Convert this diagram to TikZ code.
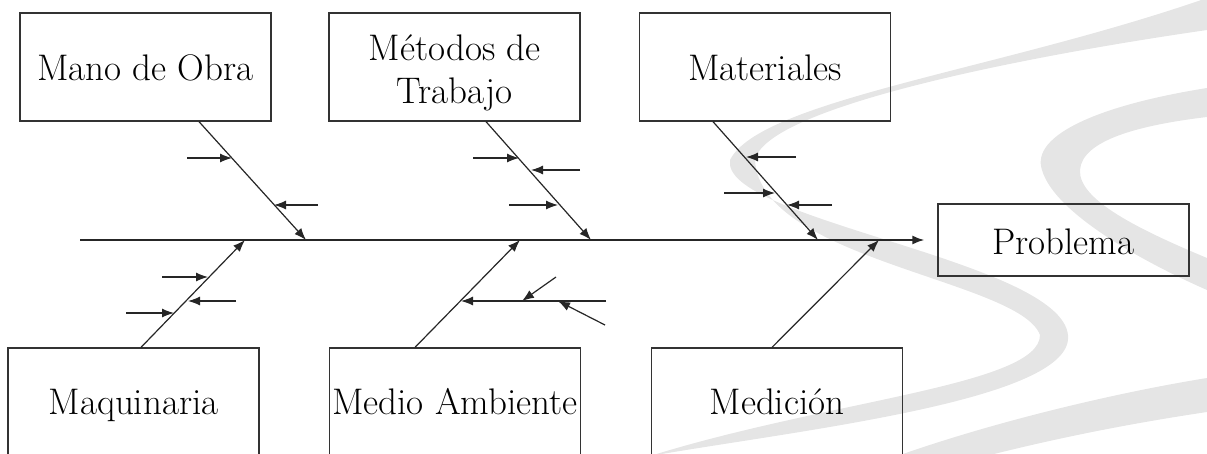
\documentclass[tikz,border=0pt]{standalone}
\usepackage{fontspec}
\usetikzlibrary{arrows.meta}
\begin{document}
\begin{tikzpicture}[x=1pt,y=-1pt,
  boxfont/.style={font=\fontsize{37}{43}\selectfont},
  box/.style={draw=black!80,line width=1.3pt,minimum width=251pt,inner sep=0pt,
    align=center,boxfont},
  upbox/.style={box,minimum height=108pt,text height=26pt,text depth=0pt},
  lowbox/.style={box,minimum height=114pt,text height=26pt,text depth=6.5pt},
  probbox/.style={box,minimum height=72pt,text height=28pt,text depth=0pt},
  boxtext/.style={boxfont,align=center,inner sep=0pt},
  branch/.style={draw=black!85,line width=1.2pt,-{Latex[length=12pt,width=9pt]}},
  spine/.style={draw=black!85,line width=1.8pt,-{Latex[length=12pt,width=9pt]}},
  swoosh/.style={fill=black!10,draw=none}]
\useasboundingbox (0,0) rectangle (1207,453);
\clip (0,0) rectangle (1207,453);
% background swooshes
\path[swoosh] (1207,-2) .. controls (1000,70) and (760,100) .. (730,160)
  .. controls (720,220) and (1060,260) .. (1068,335)
  .. controls (1075,400) and (800,430) .. (650,456)
  .. controls (830,400) and (1040,385) .. (1040,335)
  .. controls (1020,280) and (760,260) .. (755,160)
  .. controls (765,110) and (1000,60) .. (1207,30) -- cycle;
\path[swoosh] (1207,88) .. controls (1100,105) and (1030,135) .. (1042,170)
  .. controls (1055,215) and (1150,265) .. (1207,290) -- (1207,258)
  .. controls (1140,230) and (1078,200) .. (1080,170)
  .. controls (1082,140) and (1140,125) .. (1207,117) -- cycle;
\path[swoosh] (900,455) .. controls (1000,420) and (1120,392) .. (1207,378)
  -- (1207,412) .. controls (1120,425) and (1050,440) .. (990,455) -- cycle;
% boxes
\node[upbox] (mano) at (145.5,67) {Mano de Obra};
\node[upbox] (metodos) at (454.5,67) {};
\node[boxtext] (metodostxt) at (454.5,72.5) {Métodos de\\Trabajo};
\node[upbox] (materiales) at (765,67) {Materiales};
\node[probbox] (problema) at (1063.5,240) {Problema};
\node[lowbox] (maquinaria) at (133.5,405) {Maquinaria};
\node[lowbox] (medio) at (455,405) {Medio Ambiente};
\node[lowbox] (medicion) at (777,405) {Medición};
% spine
\coordinate (spL) at (80,240);
\draw[spine] (spL) -- ([xshift=-13pt]problema.west);
% spine points
\coordinate (sp1) at (306,240);
\coordinate (sp2) at (591,240);
\coordinate (sp3) at (818,240);
\coordinate (sp4) at (245,240);
\coordinate (sp5) at (520,240);
\coordinate (sp6) at (879,240);
% main branches
\draw[branch] ([xshift=53.5pt]mano.south) -- (sp1);
\draw[branch] ([xshift=31.5pt]metodos.south) -- (sp2);
\draw[branch] ([xshift=-52pt]materiales.south) -- (sp3);
\draw[branch] ([xshift=7.5pt]maquinaria.north) -- (sp4);
\draw[branch] ([xshift=-40pt]medio.north) -- (sp5);
\draw[branch] ([xshift=-5pt]medicion.north) -- (sp6);
% sub causes: Mano de Obra
\coordinate (a1s) at (187,158); \coordinate (a1e) at (232,158);
\coordinate (a2s) at (318,205); \coordinate (a2e) at (274,205);
\draw[branch] (a1s) -- (a1e);
\draw[branch] (a2s) -- (a2e);
% Metodos
\coordinate (b1s) at (473,158); \coordinate (b1e) at (519,158);
\coordinate (b2s) at (580,170); \coordinate (b2e) at (531,170);
\coordinate (b3s) at (509,205); \coordinate (b3e) at (558,205);
\draw[branch] (b1s) -- (b1e);
\draw[branch] (b2s) -- (b2e);
\draw[branch] (b3s) -- (b3e);
% Materiales
\coordinate (c1s) at (796,157); \coordinate (c1e) at (746,157);
\coordinate (c2s) at (724,193); \coordinate (c2e) at (775,193);
\coordinate (c3s) at (832,205); \coordinate (c3e) at (787,205);
\draw[branch] (c1s) -- (c1e);
\draw[branch] (c2s) -- (c2e);
\draw[branch] (c3s) -- (c3e);
% Maquinaria
\coordinate (d1s) at (162,277); \coordinate (d1e) at (208,277);
\coordinate (d2s) at (236,301); \coordinate (d2e) at (188,301);
\coordinate (d3s) at (126,313); \coordinate (d3e) at (174,313);
\draw[branch] (d1s) -- (d1e);
\draw[branch] (d2s) -- (d2e);
\draw[branch] (d3s) -- (d3e);
% Medio Ambiente
\coordinate (e1s) at (606,301); \coordinate (e1e) at (461,301);
\coordinate (e2s) at (556,277); \coordinate (e2e) at (522,301);
\coordinate (e3s) at (605,325); \coordinate (e3e) at (558,301);
\draw[branch] (e1s) -- (e1e);
\draw[branch] (e2s) -- (e2e);
\draw[branch] (e3s) -- (e3e);
\end{tikzpicture}
\end{document}
